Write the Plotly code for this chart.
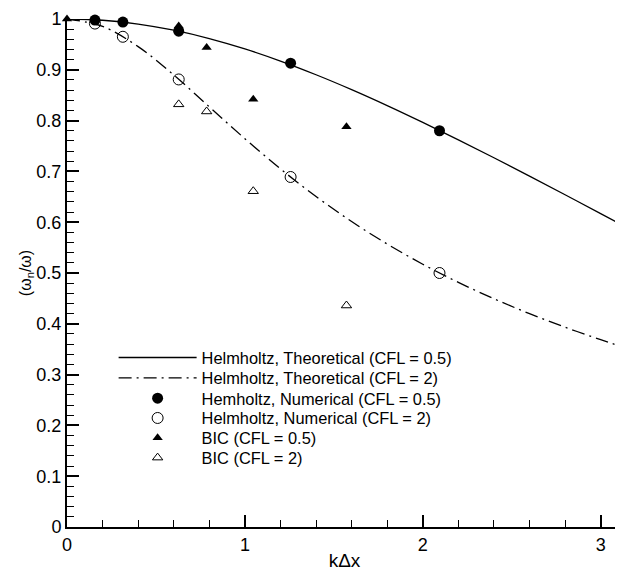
import plotly.graph_objects as go

# Theoretical curves
k_theory = [0.0, 0.2, 0.4, 0.6, 0.8, 1.0, 1.2, 1.4, 1.6, 1.8, 2.0, 2.2, 2.4, 2.6, 2.8, 3.0, 3.12]
helm_theory_cfl05 = [1.0, 0.9975, 0.9901, 0.978, 0.9615, 0.9411, 0.9172, 0.8903, 0.861, 0.8296,
                     0.7965, 0.7622, 0.7268, 0.6907, 0.654, 0.6169, 0.5944]
helm_theory_cfl2 = [1.0, 0.9854, 0.9456, 0.8897, 0.8271, 0.7644, 0.705, 0.6506, 0.6013, 0.557,
                    0.5173, 0.4816, 0.4493, 0.42, 0.3933, 0.3687, 0.3548]

# Numerical Helmholtz points
k_num = [0.157, 0.314, 0.628, 1.257, 2.094]
helm_num_cfl05 = [0.998, 0.994, 0.976, 0.913, 0.780]
helm_num_cfl2 = [0.991, 0.965, 0.881, 0.689, 0.500]

# BIC points
k_bic05 = [0.0, 0.628, 0.785, 1.047, 1.571]
bic_cfl05 = [1.0, 0.986, 0.944, 0.842, 0.788]
k_bic2 = [0.628, 0.785, 1.047, 1.571]
bic_cfl2 = [0.832, 0.818, 0.661, 0.436]

names = [
    "Helmholtz, Theoretical (CFL = 0.5)",
    "Helmholtz, Theoretical (CFL = 2)",
    "Hemholtz, Numerical (CFL = 0.5)",
    "Helmholtz, Numerical (CFL = 2)",
    "BIC (CFL = 0.5)",
    "BIC (CFL = 2)",
]
legend_ids = ["legend", "legend2", "legend3", "legend4", "legend5", "legend6"]

fig = go.Figure()
fig.add_trace(go.Scatter(x=k_theory, y=helm_theory_cfl05, mode="lines", line_shape="spline",
                         line=dict(color="black", width=1.3), name=names[0], legend=legend_ids[0]))
fig.add_trace(go.Scatter(x=k_theory, y=helm_theory_cfl2, mode="lines", line_shape="spline",
                         line=dict(color="black", width=1.3, dash="13px,5px,2px,5px"),
                         name=names[1], legend=legend_ids[1]))
fig.add_trace(go.Scatter(x=k_num, y=helm_num_cfl05, mode="markers", cliponaxis=False,
                         marker=dict(symbol="circle", size=11, color="black"),
                         name=names[2], legend=legend_ids[2]))
fig.add_trace(go.Scatter(x=k_num, y=helm_num_cfl2, mode="markers", cliponaxis=False,
                         marker=dict(symbol="circle-open", size=11, color="black", line=dict(width=1)),
                         name=names[3], legend=legend_ids[3]))
fig.add_trace(go.Scatter(x=k_bic05, y=bic_cfl05, mode="markers", cliponaxis=False,
                         marker=dict(symbol="triangle-up", size=9, color="black"),
                         name=names[4], legend=legend_ids[4]))
fig.add_trace(go.Scatter(x=k_bic2, y=bic_cfl2, mode="markers", cliponaxis=False,
                         marker=dict(symbol="triangle-up-open", size=9, color="black", line=dict(width=1)),
                         name=names[5], legend=legend_ids[5]))

font_family = "Liberation Sans, Arial, sans-serif"

# plot area is 512.5 px tall; legend rows 20 px apart
row_top = [0.3674, 0.3274, 0.2874, 0.2484, 0.2094, 0.1704]
legend_layout = {}
for lid, yy in zip(legend_ids, row_top):
    legend_layout[lid] = dict(x=0.084, y=yy, xanchor="left", yanchor="top",
                              bgcolor="rgba(0,0,0,0)", font=dict(size=16.4, family=font_family),
                              itemwidth=78)

fig.update_layout(
    width=615, height=565,
    margin=dict(l=59, r=1, t=6, b=46),
    plot_bgcolor="white", paper_bgcolor="white",
    font=dict(family=font_family, color="black"),
    showlegend=True,
    xaxis=dict(range=[0, 3.12], showgrid=False, zeroline=False,
               showline=True, linecolor="black", linewidth=2,
               ticks="inside", ticklen=12, tickwidth=2, tickcolor="black",
               tick0=0, dtick=1, tickfont=dict(size=18), ticklabeloverflow="allow",
               minor=dict(ticks="inside", ticklen=7, tickwidth=1, tickcolor="black", dtick=0.2),
               title=dict(text="kΔx", font=dict(size=19), standoff=0)),
    yaxis=dict(range=[0, 1], showgrid=False, zeroline=False,
               showline=True, linecolor="black", linewidth=2,
               ticks="inside", ticklen=12, tickwidth=2, tickcolor="black",
               tick0=0, dtick=0.1, tickfont=dict(size=18), ticklabeloverflow="allow",
               minor=dict(ticks="inside", ticklen=7, tickwidth=1, tickcolor="black", dtick=0.02),
               title=dict(text="(ω<sub>n</sub>/ω)", font=dict(size=16), standoff=0)),
    **legend_layout,
)

fig.write_html("out.html")
